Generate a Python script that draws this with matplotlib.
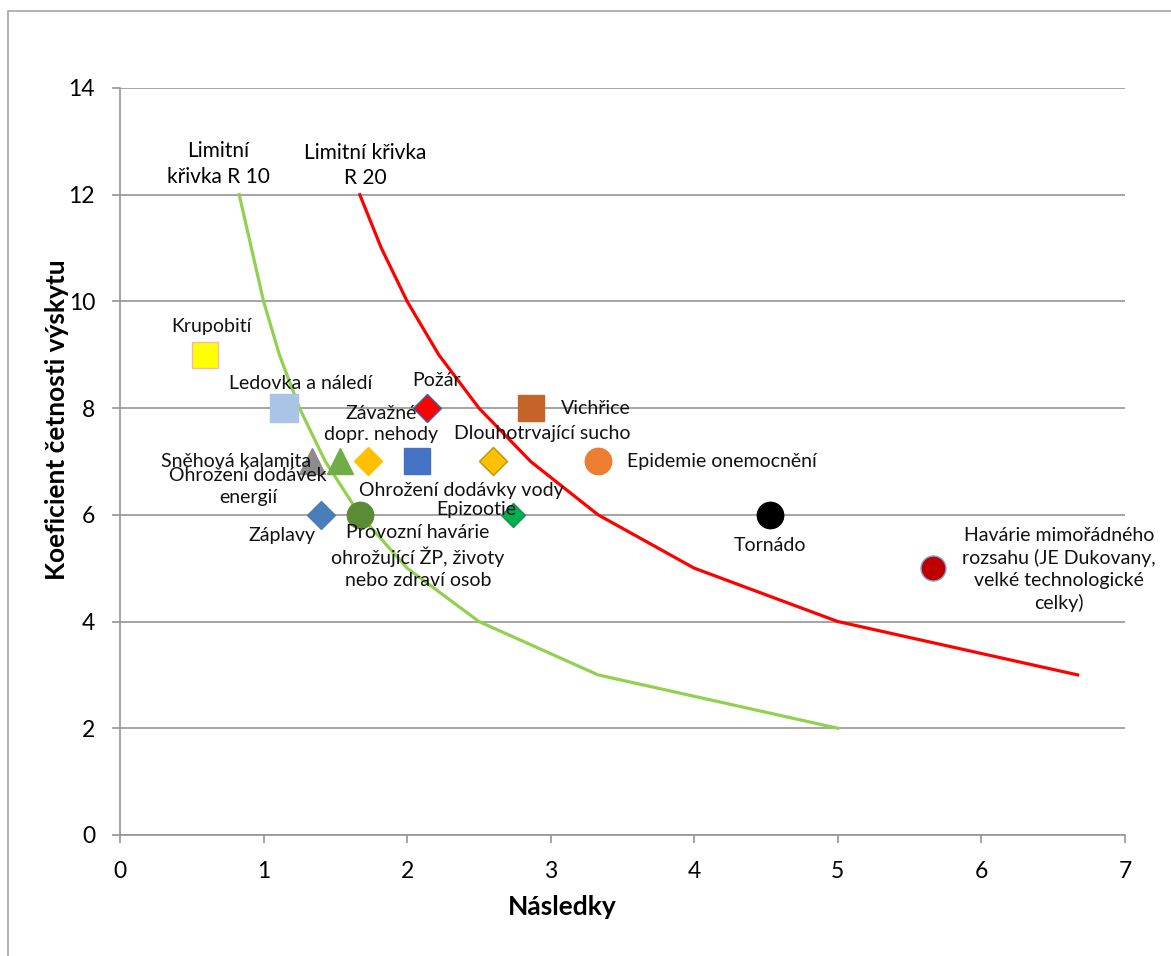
import matplotlib
matplotlib.use('Agg')
import matplotlib.pyplot as plt
from matplotlib.patches import Rectangle
import numpy as np

plt.rcParams['font.family'] = ['Lato', 'DejaVu Sans']

# limitni krivky (x*y = konst.)
r10_x = [0.83, 1.0, 1.11, 1.25, 1.43, 1.67, 2.0, 2.5, 3.33, 5.0]
r10_y = [12, 10, 9, 8, 7, 6, 5, 4, 3, 2]
r20_x = [1.67, 1.82, 2.0, 2.22, 2.5, 2.86, 3.33, 4.0, 5.0, 6.67]
r20_y = [12, 11, 10, 9, 8, 7, 6, 5, 4, 3]

# jednotlive hrozby
names = ['Krupobití', 'Ledovka a náledí', 'Požár', 'Vichřice',
         'Sněhová kalamita', 'Ohrožení dodávek\nenergií', 'Závažné\ndopr. nehody',
         'Ohrožení dodávky vody', 'Dlouhotrvající sucho', 'Epidemie onemocnění',
         'Záplavy', 'Provozní havárie\nohrožující ŽP, životy\nnebo zdraví osob',
         'Epizootie', 'Tornádo',
         'Havárie mimořádného\nrozsahu (JE Dukovany,\nvelké technologické\ncelky)']
nasledky = [0.59, 1.14, 2.14, 2.86, 1.34, 1.53, 1.73, 2.07, 2.6, 3.33, 1.4, 1.67, 2.74, 4.53, 5.66]
koef = [9, 8, 8, 8, 7, 7, 7, 7, 7, 7, 6, 6, 6, 6, 5]

# styl
markers = ['s', 's', 'D', 's', '^', '^', 'D', 's', 'D', 'o', 'D', 'o', 'D', 'o', 'o']
barvy = ['#FFFF00', '#A9C4E6', '#FF0000', '#C5632B', '#8C8C8C', '#70AD47', '#FFC000',
         '#4472C4', '#FFC000', '#ED7D31', '#4A7EBB', '#5B8C35', '#00B050', '#000000', '#C00000']
okraje = ['#F4B8A8', '#A9C4E6', '#3A5FB0', '#C5632B', '#8C8C8C', '#70AD47', '#FFC000',
          '#4472C4', '#C09000', '#ED7D31', '#4A7EBB', '#5B8C35', '#1E9050', '#000000', '#7FA8D8']
velikosti = [19, 20, 14, 19, 19, 19, 14, 19, 14, 19, 14, 19, 12, 19, 18]
# (dx, dy) v bodech, zarovnani
posuny = [(5, 20, 'center'), (12, 18, 'center'), (7, 20, 'center'), (22, 0, 'left'),
          (-55, 0, 'center'), (-66, -18, 'center'), (9, 27, 'center'),
          (32, -21, 'center'), (35, 20, 'center'), (21, 0, 'left'),
          (-28, -15, 'center'), (42, -30, 'center'), (-27, 4, 'center'),
          (0, -22, 'center'), (91, -1, 'center')]

fig = plt.figure(figsize=(11.71, 9.56), dpi=100)
ax = fig.add_axes([0.1025, 0.1266, 0.8582, 0.7814])

ax.plot(r10_x, r10_y, color='#92D050', lw=2.3, zorder=2)
ax.plot(r20_x, r20_y, color='#FF0000', lw=2.3, zorder=2)

for i in range(len(names)):
    ax.plot(nasledky[i], koef[i], marker=markers[i], ms=velikosti[i], color=barvy[i],
            mec=okraje[i], mew=1, ls='none', zorder=3)
for i in range(len(names)):
    dx, dy, ha = posuny[i]
    ax.annotate(names[i], (nasledky[i], koef[i]), xytext=(dx, dy), textcoords='offset points',
                ha=ha, va='center', fontsize=14, color='#111111', zorder=4,
                multialignment='center', linespacing=1.35)

ax.annotate('Limitní\nkřivka R 10', (r10_x[0], r10_y[0]), xytext=(-15, 22),
            textcoords='offset points', ha='center', va='center', fontsize=15,
            multialignment='center', linespacing=1.35)
ax.annotate('Limitní křivka\nR 20', (r20_x[0], r20_y[0]), xytext=(4, 21),
            textcoords='offset points', ha='center', va='center', fontsize=15,
            multialignment='center', linespacing=1.35)

ax.set_xlim(0, 7)
ax.set_ylim(0, 14)
ax.set_xticks(np.arange(0, 8, 1))
ax.set_yticks(np.arange(0, 16, 2))
ax.yaxis.grid(True, color='#959595', lw=1.2)
ax.set_axisbelow(True)
for s in ['top', 'right']:
    ax.spines[s].set_visible(False)
for s in ['left', 'bottom']:
    ax.spines[s].set_color('#959595')
    ax.spines[s].set_linewidth(1.2)
ax.tick_params(axis='both', colors='#959595', length=6, width=1.2, labelsize=16.5,
               labelcolor='black')
ax.tick_params(axis='y', pad=12)
ax.tick_params(axis='x', pad=13)

ax.set_xlabel('Následky', fontsize=19, fontweight='bold')
ax.xaxis.set_label_coords(0.44, -0.08)
fig.text(57 / 1171, 1 - 420 / 956, 'Koeficient četnosti výskytu', rotation=90,
         ha='center', va='center', fontsize=19, fontweight='bold')

fig.patches.append(Rectangle((0.0068, -0.1), 1.2, 0.9885 + 0.1, fill=False,
                             edgecolor='#a6a6a6', lw=1.2, transform=fig.transFigure))

fig.savefig('out.png', dpi=100)
